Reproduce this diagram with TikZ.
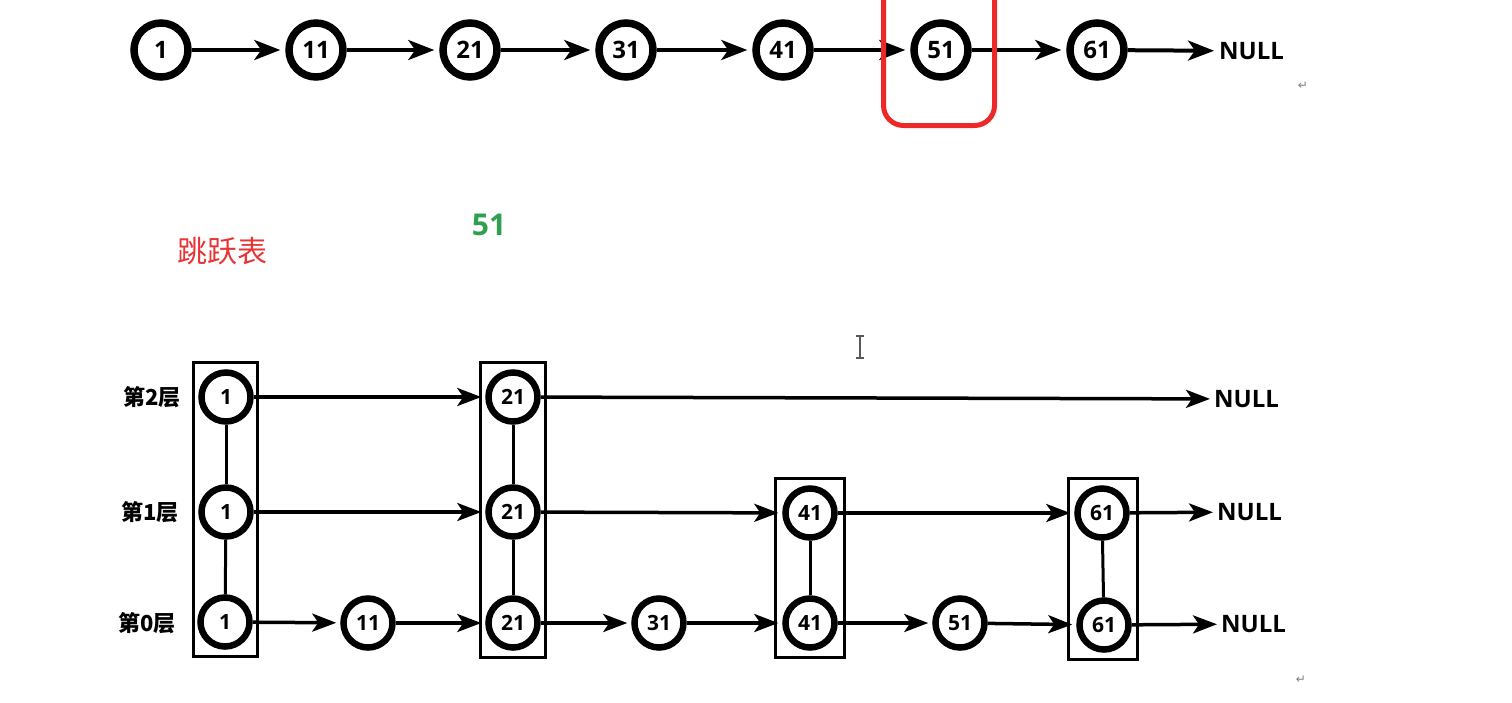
\documentclass[tikz,border=0pt]{standalone}
\usepackage{fontspec}
\setmainfont{Open Sans}
\newfontfamily\cjk{Noto Sans CJK SC}
\newfontfamily\symfont{DejaVu Sans}
\usetikzlibrary{arrows.meta,fit}
\definecolor{hlred}{RGB}{236,40,40}
\definecolor{titlered}{RGB}{232,52,52}
\definecolor{mygreen}{RGB}{46,160,80}
\begin{document}
\begin{tikzpicture}[x=1pt,y=-1pt,
  topnode/.style={circle,draw,fill=white,line width=7.5pt,minimum size=54pt,inner sep=0pt,font=\fontsize{24}{24}\selectfont\bfseries},
  botnode/.style={circle,draw,fill=white,line width=6.5pt,minimum size=49pt,inner sep=0pt,font=\fontsize{21}{21}\selectfont\bfseries},
  toparr/.style={line width=4pt,-{Stealth[length=26pt,width=20pt,inset=7pt]},shorten >=5pt},
  botarr/.style={line width=3.5pt,-{Stealth[length=24pt,width=18pt,inset=6pt]},shorten >=4pt},
  nulltxt/.style={font=\fontsize{24}{24}\selectfont\bfseries,anchor=west,inner sep=0pt},
  lvl/.style={font=\cjk\fontsize{22}{22}\selectfont\bfseries,anchor=east,inner sep=0pt},
  colbox/.style={draw,line width=3pt,inner ysep=7pt},
  vlink/.style={line width=3pt},
  retmark/.style={font=\symfont\fontsize{12}{12}\selectfont,text=gray,inner sep=0pt}
]
\useasboundingbox (0,0) rectangle (1512,702);

% ---------- top linked list ----------
\node[topnode] (t1)  at (161,50) {1};
\node[topnode] (t11) at (316,50) {11};
\node[topnode] (t21) at (470,50) {21};
\node[topnode] (t31) at (626,50) {31};
\node[topnode] (t41) at (783,50) {41};
\node[topnode] (t51) at (941,50) {51};
\node[topnode] (t61) at (1097,50) {61};
\node[nulltxt] (tnull) at (1219,51) {NULL};
\draw[toparr] (t1) -- (t11);
\draw[toparr] (t11) -- (t21);
\draw[toparr] (t21) -- (t31);
\draw[toparr] (t31) -- (t41);
\draw[toparr] (t41) -- (t51);
\draw[toparr] (t51) -- (t61);
\draw[toparr] (t61) -- (tnull);
\node[retmark] (r1) at (1303,86) {↵};

% red highlight
\draw[hlred,line width=5pt,rounded corners=20pt] (883.5,-30) rectangle (994.5,125.5);

% texts
\node[font=\cjk\fontsize{30}{30}\selectfont,text=titlered] (title) at (222,251) {跳跃表};
\node[font=\fontsize{30}{30}\selectfont\bfseries,text=mygreen] (g51) at (489,225) {51};

% cursor
\draw[gray!70!black,line width=1.5pt] (860,336) -- (860,358) (856,336) -- (864,336) (856,358) -- (864,358);

% ---------- skip list ----------
\node[lvl] (l2) at (181,397) {第2层};
\node[lvl] (l1) at (179,512) {第1层};
\node[lvl] (l0) at (176,623) {第0层};

\node[botnode] (a2) at (226,397) {1};
\node[botnode] (a1) at (226,512) {1};
\node[botnode] (a0) at (225,622) {1};
\node[botnode] (b0) at (368,623) {11};
\node[botnode] (c2) at (513,397) {21};
\node[botnode] (c1) at (513,512) {21};
\node[botnode] (c0) at (513,623) {21};
\node[botnode] (d0) at (659,623) {31};
\node[botnode] (e1) at (810,513) {41};
\node[botnode] (e0) at (810,623) {41};
\node[botnode] (f0) at (960,623) {51};
\node[botnode] (g1) at (1102,513) {61};
\node[botnode] (g0) at (1104,625) {61};

\node[colbox,inner xsep=4pt,fit=(a2)(a0)] (boxa) {};
\node[colbox,inner xsep=5pt,fit=(c2)(c0)] (boxc) {};
\node[colbox,inner xsep=7pt,fit=(e1)(e0)] (boxe) {};
\node[colbox,inner xsep=5.5pt,fit=(g1)(g0)] (boxg) {};

\draw[vlink] (a2) -- (a1);
\draw[vlink] (a1) -- (a0);
\draw[vlink] (c2) -- (c1);
\draw[vlink] (c1) -- (c0);
\draw[vlink] (e1) -- (e0);
\draw[vlink] (g1) -- (g0);

\node[nulltxt] (n2) at (1214,399) {NULL};
\node[nulltxt] (n1) at (1217,512) {NULL};
\node[nulltxt] (n0) at (1221,624) {NULL};

% level 2
\draw[botarr] (a2) -- (c2);
\draw[botarr] (c2) -- (n2);
% level 1
\draw[botarr] (a1) -- (c1);
\draw[botarr] (c1) -- (e1);
\draw[botarr] (e1) -- (g1);
\draw[botarr] (g1) -- (n1);
% level 0
\draw[botarr] (a0) -- (b0);
\draw[botarr] (b0) -- (c0);
\draw[botarr] (c0) -- (d0);
\draw[botarr] (d0) -- (e0);
\draw[botarr] (e0) -- (f0);
\draw[botarr] (f0) -- (g0);
\draw[botarr] (g0) -- (n0);

\node[retmark] (r2) at (1301,680) {↵};
\end{tikzpicture}
\end{document}
